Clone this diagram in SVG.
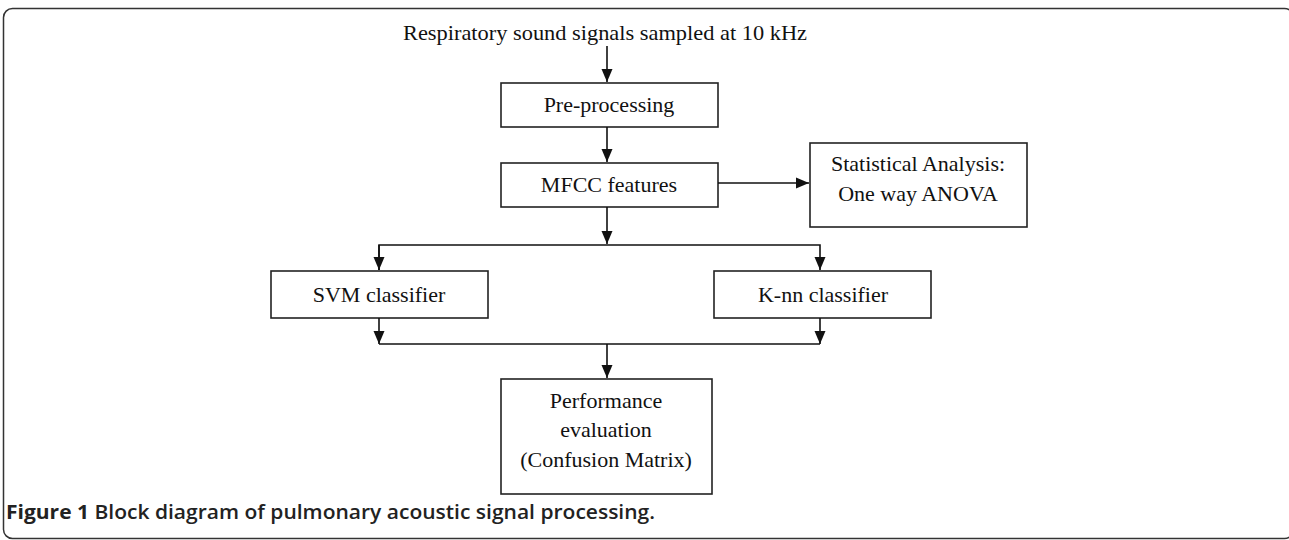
<svg xmlns="http://www.w3.org/2000/svg" width="1289" height="540" viewBox="0 0 1289 540">
<style>
.box{fill:#fff;stroke:#222;stroke-width:1.6}
.t{font-family:"Liberation Serif",serif;font-size:22px;fill:#111;text-anchor:middle}
.c{fill:none;stroke:#111;stroke-width:1.6}
.cap{font-family:"Open Sans","Noto Sans",sans-serif;font-size:20px;font-weight:600;fill:#222}
</style>
<defs>
<marker id="ah" markerUnits="userSpaceOnUse" markerWidth="14" markerHeight="14" viewBox="0 0 14 14" refX="13" refY="7" orient="auto">
<path d="M0,1.5 L13,7 L0,12.5 Z" fill="#111"/>
</marker>
</defs>
<rect x="3.5" y="8.5" width="1290" height="530" rx="9" fill="#fff" stroke="#333" stroke-width="1.5"/>
<g id="input"><text class="t" x="605" y="40" textLength="404" lengthAdjust="spacingAndGlyphs">Respiratory sound signals sampled at 10 kHz</text></g>
<g id="preprocessing"><rect class="box" x="501" y="83" width="217" height="44"/><text class="t" x="609" y="112">Pre-processing</text></g>
<g id="mfcc"><rect class="box" x="501" y="163" width="217" height="44"/><text class="t" x="609" y="192">MFCC features</text></g>
<g id="stats"><rect class="box" x="810" y="143" width="217" height="84"/><text class="t" x="918" y="171">Statistical Analysis:</text><text class="t" x="918" y="201">One way ANOVA</text></g>
<g id="svm"><rect class="box" x="271" y="271" width="217" height="47"/><text class="t" x="379" y="302">SVM classifier</text></g>
<g id="knn"><rect class="box" x="714" y="271" width="217" height="47"/><text class="t" x="823" y="302">K-nn classifier</text></g>
<g id="performance"><rect class="box" x="501" y="379" width="211" height="115"/><text class="t" x="606" y="408">Performance</text><text class="t" x="606" y="437">evaluation</text><text class="t" x="606" y="467">(Confusion Matrix)</text></g>
<g id="connectors">
<line class="c" x1="607" y1="46" x2="607" y2="82" marker-end="url(#ah)"/>
<line class="c" x1="607" y1="127" x2="607" y2="162" marker-end="url(#ah)"/>
<line class="c" x1="718" y1="183" x2="809" y2="183" marker-end="url(#ah)"/>
<line class="c" x1="607" y1="207" x2="607" y2="244" marker-end="url(#ah)"/>
<polyline class="c" points="379,270 379,245 820,245 820,270" marker-end="url(#ah)"/>
<line class="c" x1="379" y1="245" x2="379" y2="270" marker-end="url(#ah)"/>
<line class="c" x1="379" y1="318" x2="379" y2="344" marker-end="url(#ah)"/>
<line class="c" x1="820" y1="318" x2="820" y2="344" marker-end="url(#ah)"/>
<line class="c" x1="379" y1="344" x2="820" y2="344"/>
<line class="c" x1="607" y1="344" x2="607" y2="378" marker-end="url(#ah)"/>
</g>
<text class="cap" x="6" y="519" textLength="649" lengthAdjust="spacingAndGlyphs"><tspan font-weight="700">Figure 1</tspan> Block diagram of pulmonary acoustic signal processing.</text>
</svg>
